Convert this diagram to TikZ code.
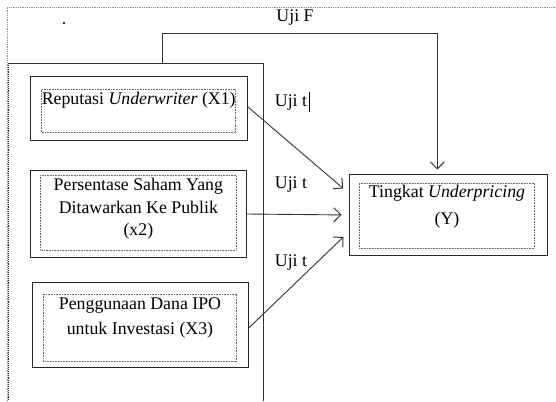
\documentclass[tikz,border=0pt]{standalone}
\usepackage{fontspec}
\setmainfont{Liberation Serif}
\usetikzlibrary{arrows.meta,calc}
\begin{document}
\begin{tikzpicture}[x=1pt,y=-1pt,
  outerbox/.style={draw=black!85, line width=0.9pt, rectangle, inner sep=0},
  innerbox/.style={draw=black!60, line width=0.6pt, densely dotted, rectangle, inner sep=0},
  lbl/.style={inner sep=0, align=center, text=black},
  conn/.style={draw=black!80, line width=0.9pt},
  arr/.style={conn, -{Straight Barb[length=7pt,width=14pt,line width=1pt]}, shorten >=7pt},
  fnt/.style={font=\fontsize{17.8}{#1}\selectfont},
]
\useasboundingbox (0,0) rectangle (556,401);

% dotted outer frame
\draw[black!45, line width=0.8pt, densely dotted] (7,401) -- (7,7) -- (556,7);
\node[lbl, fnt=20] (dot) at (64,24) {.};

% big container (open at bottom)
\coordinate (cTL) at (8,63);
\coordinate (cTR) at (263,63);
\coordinate (cBR) at (263,401);
\coordinate (cBL) at (8,401);
\draw[conn] (cTL) -- (cTR) -- (cBR);
\draw[black!85, line width=0.9pt, densely dotted] (cTL) -- (cBL);

% X1
\node[outerbox, minimum width=217.5pt, minimum height=64pt] (X1) at (138.75,108) {};
\node[innerbox, minimum width=194pt, minimum height=43.4pt] (X1i) at (138.7,111) {};
\node[lbl, fnt=20] (X1t) at (138.7,100) {Reputasi \textit{Underwriter} (X1)};

% X2
\node[outerbox, minimum width=216.7pt, minimum height=86.6pt] (X2) at (138.35,214) {};
\node[innerbox, minimum width=195.3pt, minimum height=75pt] (X2i) at (138.35,212.5) {};
\node[lbl, fnt=22.5] (X2t) at (138.35,209.2) {Persentase Saham Yang\\Ditawarkan Ke Publik\\(x2)};

% X3
\node[outerbox, minimum width=216pt, minimum height=84.6pt] (X3) at (140.3,325) {};
\node[innerbox, minimum width=193.4pt, minimum height=67.7pt] (X3i) at (140,327.85) {};
\node[lbl, fnt=25.7] (X3t) at (140,317.85) {Penggunaan Dana IPO\\untuk Investasi (X3)};

% Y
\node[outerbox, minimum width=198pt, minimum height=81pt] (Y) at (448,214.5) {};
\node[innerbox, minimum width=175pt, minimum height=65pt] (Yi) at (446.5,215.5) {};
\node[lbl, fnt=27] (Yt) at (447,206.5) {Tingkat \textit{Underpricing}\\(Y)};

% Uji F connector
\node[lbl, fnt=20] (ujiF) at (295,18) {Uji F};
\coordinate (fStart) at (162,63);
\coordinate (fCorner) at (437.3,33);
\draw[conn] (fStart) |- (fCorner);
\draw[arr, shorten >=4pt] (fCorner) -- (fCorner |- Y.north);

% Uji t arrows
\draw[arr] ($(X1.east)+(0,-1)$) -- ($(Y.west)+(0,-21.5)$);
\draw[arr] (X2.east) -- ($(Y.west)+(0,0.5)$);
\draw[arr] ($(X3.east)+(0,3)$) -- ($(Y.west)+(0,17.5)$);

\node[lbl, fnt=20] (t1) at (291,103) {Uji t};
\coordinate (cur1) at (309.5,92);
\coordinate (cur2) at (309.5,112);
\draw[black, line width=1.4pt] (cur1) -- (cur2);
\node[lbl, fnt=20] (t2) at (291,185) {Uji t};
\node[lbl, fnt=20] (t3) at (291,262) {Uji t};
\end{tikzpicture}
\end{document}
